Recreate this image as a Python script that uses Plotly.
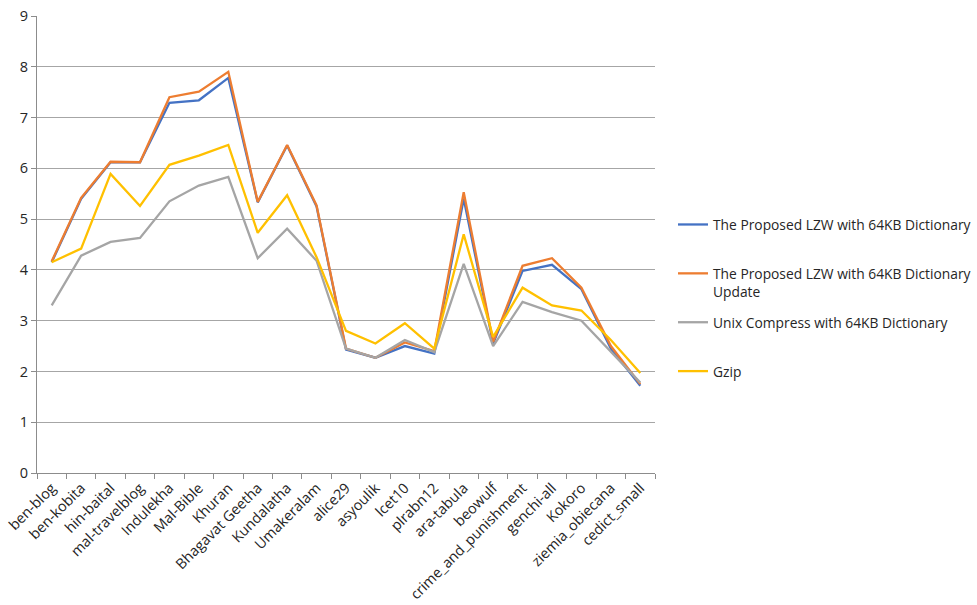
import plotly.graph_objects as go

categories = ["ben-blog", "ben-kobita", "hin-baital", "mal-travelblog", "Indulekha", "Mal-Bible",
              "Khuran", "Bhagavat Geetha", "Kundalatha", "Umakeralam", "alice29", "asyoulik",
              "lcet10", "plrabn12", "ara-tabula", "beowulf", "crime_and_punishment", "genchi-all",
              "Kokoro", "ziemia_obiecana", "cedict_small"]

lzw_64kb = [4.15, 5.40, 6.12, 6.12, 7.29, 7.34, 7.78, 5.33, 6.45, 5.25, 2.43, 2.27,
            2.50, 2.35, 5.40, 2.55, 3.98, 4.10, 3.62, 2.45, 1.72]
lzw_64kb_update = [4.17, 5.42, 6.13, 6.12, 7.40, 7.51, 7.90, 5.34, 6.46, 5.27, 2.45, 2.27,
                   2.57, 2.40, 5.53, 2.58, 4.08, 4.23, 3.65, 2.50, 1.75]
unix_compress = [3.30, 4.28, 4.55, 4.63, 5.35, 5.66, 5.83, 4.23, 4.81, 4.18, 2.45, 2.27,
                 2.62, 2.38, 4.12, 2.50, 3.37, 3.17, 3.00, 2.40, 1.78]
gzip = [4.15, 4.42, 5.89, 5.26, 6.07, 6.25, 6.46, 4.73, 5.47, 4.25, 2.80, 2.55,
        2.95, 2.45, 4.70, 2.68, 3.65, 3.30, 3.20, 2.62, 1.97]

series = [
    ("The Proposed LZW with 64KB Dictionary<br> ", lzw_64kb, "#4472C4"),
    ("The Proposed LZW with 64KB Dictionary<br>Update", lzw_64kb_update, "#ED7D31"),
    ("Unix Compress with 64KB Dictionary<br> ", unix_compress, "#A5A5A5"),
    ("Gzip<br> ", gzip, "#FFC000"),
]

fig = go.Figure()
for i, (name, vals, color) in enumerate(series):
    fig.add_trace(go.Scatter(x=categories, y=vals, mode="lines", name=name,
                             legendgroup=f"g{i}",
                             line=dict(color=color, width=2.3)))

W, H = 977, 605
font_family = "Open Sans, Noto Sans, sans-serif"
text_color = "#262626"
fig.update_layout(
    width=W, height=H,
    margin=dict(l=0, r=0, t=0, b=0),
    paper_bgcolor="white", plot_bgcolor="white",
    font=dict(family=font_family, size=13, color=text_color),
    showlegend=True,
    legend=dict(x=673 / W, y=1 - 209 / H, xanchor="left", yanchor="top",
                traceorder="grouped", tracegroupgap=10, valign="top",
                font=dict(size=13.8, color=text_color),
                itemwidth=30, bgcolor="rgba(0,0,0,0)", borderwidth=0),
    xaxis=dict(type="category", domain=[37 / W, 655 / W], automargin=False,
               showgrid=False, showline=True, linecolor="#8c8c8c",
               linewidth=1, ticks="outside", tickson="boundaries", ticklen=5,
               tickcolor="#8c8c8c", tickangle=-45, tickfont=dict(size=14.4, color=text_color),
               range=[-0.5, 20.5]),
    yaxis=dict(range=[0, 9], dtick=1, domain=[(H - 473) / H, (H - 16) / H], automargin=False,
               showgrid=True, gridcolor="#a6a6a6", gridwidth=1,
               showline=True, linecolor="#8c8c8c", ticks="outside", ticklen=5,
               tickcolor="#8c8c8c", zeroline=False, tickfont=dict(size=14.5, color=text_color)),
)

fig.write_html("out.html")
